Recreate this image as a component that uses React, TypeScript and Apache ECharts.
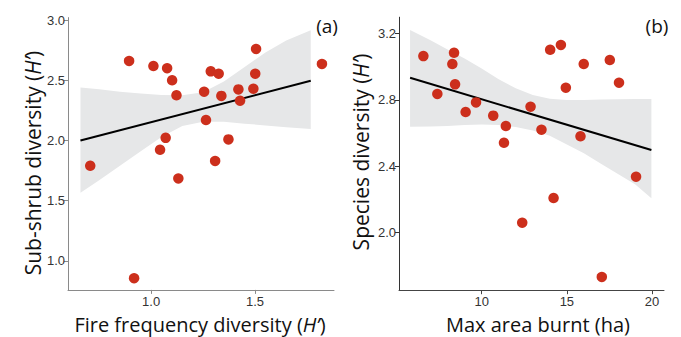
import React, { useEffect, useRef } from "react";
import * as echarts from "echarts";

// Panel (a): fire frequency diversity vs sub-shrub diversity
const fireDiv = [0.894, 1.011, 1.077, 1.101, 1.122, 1.287, 1.325, 1.505, 1.501, 1.492, 1.420, 1.428, 1.255, 1.338, 1.264, 1.372, 1.070, 1.043, 1.308, 1.822, 0.707, 1.131, 0.918];
const shrubDiv = [2.66, 2.618, 2.60, 2.50, 2.375, 2.574, 2.554, 2.76, 2.554, 2.43, 2.424, 2.33, 2.405, 2.37, 2.17, 2.009, 2.022, 1.923, 1.83, 2.635, 1.79, 1.685, 0.857];
const fitAX = [0.66, 1.768];
const fitAY = [2.0, 2.496];
const bandAX = [0.66, 0.75, 0.85, 0.95, 1.05, 1.15, 1.25, 1.35, 1.45, 1.55, 1.65, 1.768];
const bandAUpper = [2.44, 2.425, 2.405, 2.39, 2.378, 2.376, 2.40, 2.49, 2.61, 2.73, 2.83, 2.915];
const bandALower = [1.566, 1.67, 1.79, 1.91, 2.03, 2.12, 2.155, 2.155, 2.14, 2.125, 2.11, 2.095];
const ticksAX = [1.0, 1.5];
const ticksAY = [1.0, 1.5, 2.0, 2.5, 3.0];

// Panel (b): max area burnt vs species diversity
const maxArea = [6.58, 8.38, 8.28, 8.44, 7.40, 9.06, 9.67, 10.68, 11.42, 11.31, 12.87, 13.51, 14.02, 14.65, 14.94, 15.99, 15.80, 17.52, 18.06, 19.06, 14.22, 12.38, 17.05];
const speciesDiv = [3.065, 3.085, 3.017, 2.894, 2.836, 2.727, 2.785, 2.705, 2.642, 2.541, 2.759, 2.62, 3.103, 3.132, 2.874, 3.017, 2.58, 3.041, 2.904, 2.336, 2.207, 2.058, 1.73];
const fitBX = [5.8, 19.96];
const fitBY = [2.934, 2.497];
const bandBX = [5.8, 7, 8, 9, 10, 11, 12, 13, 14, 15, 16, 17, 18, 19, 19.96];
const bandBUpper = [3.222, 3.16, 3.105, 3.05, 2.99, 2.925, 2.87, 2.83, 2.807, 2.80, 2.80, 2.802, 2.804, 2.805, 2.805];
const bandBLower = [2.638, 2.64, 2.642, 2.648, 2.652, 2.648, 2.636, 2.615, 2.583, 2.53, 2.478, 2.415, 2.352, 2.29, 2.205];
const ticksBX = [10, 15, 20];
const ticksBY = [2.0, 2.4, 2.8, 3.2];

const POINT = "#cc2f1c";
const BAND = "#e6e7e8";
const TITLE_FONT = "'Open Sans', sans-serif";
const TICK_FONT = "'Liberation Sans', Arial, sans-serif";

function bandSeries(idx: number, xs: number[], lo: number[], hi: number[]) {
  return {
    type: "custom",
    xAxisIndex: idx,
    yAxisIndex: idx,
    silent: true,
    z: 1,
    data: xs.map((x, i) => [x, lo[i], hi[i]]),
    encode: { x: 0, y: [1, 2] },
    renderItem: (params: any, api: any) => {
      if (params.dataIndex !== 0) return null;
      const pts: number[][] = [];
      for (let i = 0; i < xs.length; i++) pts.push(api.coord([xs[i], hi[i]]));
      for (let i = xs.length - 1; i >= 0; i--) pts.push(api.coord([xs[i], lo[i]]));
      return { type: "polygon", shape: { points: pts }, style: { fill: BAND } };
    },
  };
}

function xAxisDef(idx: number, min: number, max: number, ticks: number[], dec: number, color: string) {
  return {
    type: "value",
    gridIndex: idx,
    min,
    max,
    splitLine: { show: false },
    axisLine: { show: true, onZero: false, lineStyle: { color, width: 1 } },
    axisTick: { show: true, length: 4, lineStyle: { color }, customValues: ticks },
    axisLabel: {
      customValues: ticks,
      color: "#333",
      fontSize: 13,
      fontFamily: TICK_FONT,
      margin: 5,
      formatter: (v: number) => v.toFixed(dec),
    },
  };
}

function yAxisDef(idx: number, min: number, max: number, ticks: number[], color: string) {
  return {
    type: "value",
    gridIndex: idx,
    min,
    max,
    splitLine: { show: false },
    axisLine: { show: true, onZero: false, lineStyle: { color, width: 1 } },
    axisTick: { show: true, length: 4, lineStyle: { color }, customValues: ticks },
    axisLabel: {
      customValues: ticks,
      color: "#333",
      fontSize: 13,
      fontFamily: TICK_FONT,
      margin: 3,
      formatter: (v: number) => v.toFixed(1),
    },
  };
}

function titleText(x: number, y: number, before: string, after: string | null, rotate: boolean, size: number) {
  const base = { fontFamily: TITLE_FONT, fontSize: size };
  return {
    type: "text",
    x,
    y,
    rotation: rotate ? Math.PI / 2 : 0,
    style: {
      text: after === null ? `{n|${before}}` : `{n|${before}}{i|H’}{n|${after}}`,
      textAlign: "center",
      textVerticalAlign: "middle",
      fill: "#111",
      rich: {
        n: { ...base, color: "#111" },
        i: { ...base, color: "#111", fontStyle: "italic" },
      },
    },
  };
}

export default function App() {
  const ref = useRef<HTMLDivElement>(null);
  useEffect(() => {
    if (!ref.current) return;
    const chart = echarts.init(ref.current, null, { renderer: "svg" });
    chart.setOption({
      animation: false,
      backgroundColor: "#ffffff",
      grid: [
        { left: 68, top: 17.6, width: 266, height: 272.3 },
        { left: 399, top: 17.2, width: 265, height: 273 },
      ],
      xAxis: [
        xAxisDef(0, 0.6, 1.88, ticksAX, 1, "#8a8a8a"),
        xAxisDef(1, 5.15, 20.7, ticksBX, 0, "#444"),
      ],
      yAxis: [
        yAxisDef(0, 0.76, 3.02, ticksAY, "#8a8a8a"),
        yAxisDef(1, 1.65, 3.3, ticksBY, "#333"),
      ],
      series: [
        bandSeries(0, bandAX, bandALower, bandAUpper),
        {
          type: "line",
          xAxisIndex: 0,
          yAxisIndex: 0,
          z: 2,
          symbol: "none",
          silent: true,
          lineStyle: { color: "#000", width: 2 },
          data: fitAX.map((x, i) => [x, fitAY[i]]),
        },
        {
          type: "scatter",
          xAxisIndex: 0,
          yAxisIndex: 0,
          z: 3,
          symbolSize: 10.5,
          itemStyle: { color: POINT, opacity: 1 },
          data: fireDiv.map((x, i) => [x, shrubDiv[i]]),
        },
        bandSeries(1, bandBX, bandBLower, bandBUpper),
        {
          type: "line",
          xAxisIndex: 1,
          yAxisIndex: 1,
          z: 2,
          symbol: "none",
          silent: true,
          lineStyle: { color: "#000", width: 2 },
          data: fitBX.map((x, i) => [x, fitBY[i]]),
        },
        {
          type: "scatter",
          xAxisIndex: 1,
          yAxisIndex: 1,
          z: 3,
          symbolSize: 10.5,
          itemStyle: { color: POINT, opacity: 1 },
          data: maxArea.map((x, i) => [x, speciesDiv[i]]),
        },
      ],
      graphic: [
        titleText(200, 324, "Fire frequency diversity (", ")", false, 20),
        titleText(538, 324, "Max area burnt (ha)", null, false, 20),
        titleText(33, 163, "Sub-shrub diversity (", ")", true, 21),
        titleText(361, 152, "Species diversity (", ")", true, 21),
        {
          type: "text",
          x: 327,
          y: 26,
          style: { text: "(a)", fontFamily: TITLE_FONT, fontSize: 19, fill: "#111", textAlign: "center", textVerticalAlign: "middle" },
        },
        {
          type: "text",
          x: 657,
          y: 26,
          style: { text: "(b)", fontFamily: TITLE_FONT, fontSize: 19, fill: "#111", textAlign: "center", textVerticalAlign: "middle" },
        },
      ],
    });
    return () => chart.dispose();
  }, []);
  return (
    <div
      ref={ref}
      style={{ position: "absolute", left: 0, top: 0, width: 681, height: 337 }}
    />
  );
}
